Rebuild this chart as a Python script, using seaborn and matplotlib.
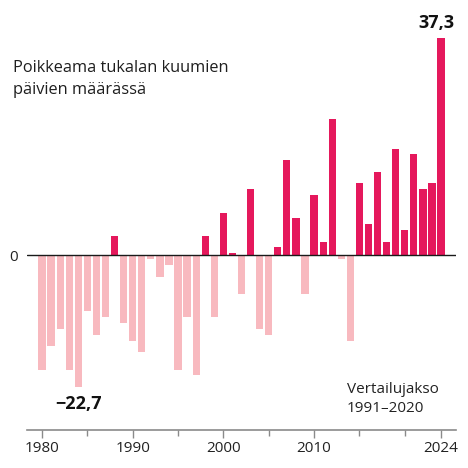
import matplotlib
matplotlib.use("Agg")
import matplotlib.pyplot as plt
import seaborn as sns
import pandas as pd
import numpy as np

years = list(range(1980, 2025))
values = [-19.7, -15.7, -12.7, -19.7, -22.7, -9.7, -13.7, -10.7, 3.3, -11.7,
          -14.7, -16.7, -0.7, -3.7, -1.7, -19.7, -10.7, -20.7, 3.3, -10.7,
          7.3, 0.3, -6.7, 11.3, -12.7, -13.7, 1.3, 16.3, 6.3, -6.7,
          10.3, 2.3, 23.3, -0.7, -14.7, 12.3, 5.3, 14.3, 2.3, 18.3,
          4.3, 17.3, 11.3, 12.3, 37.3]
major_ticks = [1980, 1990, 2000, 2010, 2024]
minor_ticks = [1985, 1995, 2005, 2015, 2020]
title_lines = ["Poikkeama tukalan kuumien", "päivien määrässä"]
note_lines = "Vertailujakso\n1991–2020"

sns.set_theme(style="white")
plt.rcParams['font.family'] = ['Open Sans', 'DejaVu Sans']

df = pd.DataFrame({"year": years, "value": values})
df["sign"] = np.where(df["value"] >= 0, "pos", "neg")

W = H = 468
fig = plt.figure(figsize=(W / 100, H / 100), dpi=100)
ax = fig.add_axes([26.7 / W, 38 / H, 429 / W, 420 / H])

sns.barplot(data=df, x="year", y="value", hue="sign", native_scale=True,
            palette={"pos": "#e5185c", "neg": "#f8b9bf"}, dodge=False,
            width=0.8, legend=False, ax=ax, saturation=1, linewidth=0)

ax.set_xlim(1978.31, 2025.62)
ax.set_ylim(-30.07, 42.1)
ax.axhline(0, color="#1a1a1a", lw=1.0, zorder=3)

for s in ["top", "right", "left"]:
    ax.spines[s].set_visible(False)
ax.spines["bottom"].set_color("#8a8a8a")
ax.spines["bottom"].set_linewidth(1.2)

ax.set_xticks(major_ticks)
ax.set_xticklabels([str(t) for t in major_ticks])
ax.set_xticks(minor_ticks, minor=True)
ax.tick_params(axis="x", which="major", length=6, width=1, color="#8a8a8a",
               labelsize=11, labelcolor="#222222", pad=2, direction="out", bottom=True)
ax.tick_params(axis="x", which="minor", length=4, width=1, color="#8a8a8a",
               bottom=True, direction="out")
ax.set_yticks([0])
ax.set_yticklabels(["0"])
ax.tick_params(axis="y", length=0, labelsize=11, labelcolor="#222222", pad=6)
ax.set_xlabel("")
ax.set_ylabel("")
ax.grid(False)

fig.text(13 / W, 1 - 72 / H, title_lines[0], fontsize=11.8, color="#1e1e1e", va="baseline")
fig.text(13 / W, 1 - 93.5 / H, title_lines[1], fontsize=11.8, color="#1e1e1e", va="baseline")

imax = int(np.argmax(values))
imin = int(np.argmin(values))
ax.annotate(f"{values[imax]:.1f}".replace(".", ","), (years[imax], values[imax]),
            xytext=(10, 4), textcoords="offset points", ha="right", va="bottom",
            fontsize=13, fontweight="bold", color="#111111")
ax.annotate(f"−{abs(values[imin]):.1f}".replace(".", ","), (years[imin], values[imin]),
            xytext=(0, -6), textcoords="offset points", ha="center", va="top",
            fontsize=13, fontweight="bold", color="#111111")

fig.text(347 / W, 1 - 412 / H, note_lines, fontsize=11, color="#222222",
         va="baseline", linespacing=1.35)

fig.savefig("out.png", dpi=100, facecolor="white")
